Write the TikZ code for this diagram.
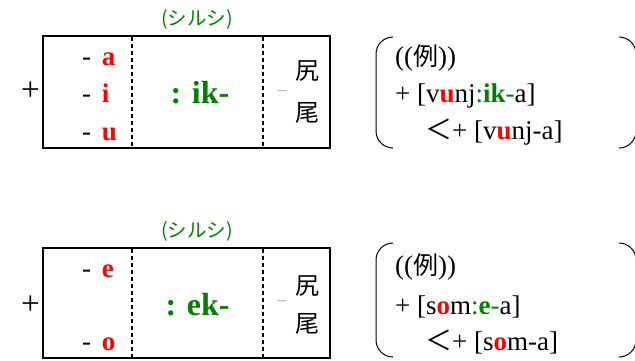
\documentclass[tikz,border=0pt]{standalone}
\usepackage{fontspec}
\setmainfont{Liberation Serif}
\newfontfamily\jp{Noto Sans CJK JP}
\newfontfamily\sansf{Liberation Sans}
\definecolor{myred}{RGB}{255,0,0}
\definecolor{mygreen}{RGB}{0,128,0}
\definecolor{mygray}{RGB}{185,185,185}
\begin{document}
\begin{tikzpicture}[x=1pt,y=-1pt,
  boxline/.style={line width=1.8pt},
  dashline/.style={line width=1.6pt,dash pattern=on 4pt off 3pt},
  brk/.style={line width=1pt},
  txt/.style={inner sep=0pt,font=\fontsize{27}{30}\selectfont},
  plus/.style={inner sep=0pt,font=\fontsize{33}{36}\selectfont},
  vow/.style={inner sep=0pt,anchor=base west,font=\fontsize{27}{30}\selectfont},
  marklabel/.style={inner sep=0pt,font=\jp\fontsize{19.5}{22}\selectfont,text=mygreen},
  kan/.style={inner sep=0pt,font=\jp\fontsize{24}{28}\selectfont},
  mid/.style={inner sep=0pt,anchor=base,text=mygreen,font=\bfseries\fontsize{32}{36}\selectfont},
  graydash/.style={inner sep=0pt,text=mygray,font=\sansf\fontsize{17}{20}\selectfont},
  ex/.style={txt,anchor=west}]
\useasboundingbox (0,0) rectangle (635,360);
% ---------- top ----------
\node[marklabel] (m1) at (197,19) {(シルシ)};
\draw[boxline] (43,36) rectangle (330,148);
\draw[dashline] (132,37) -- (132,148);
\draw[dashline] (263,37) -- (263,148);
\node[plus] (p1) at (30.5,91.5) {+};
\node[vow] (va) at (82,65) {-\hspace{0.4em}\textbf{\textcolor{myred}{a}}};
\node[vow] (vi) at (82,102) {-\hspace{0.4em}\textbf{\textcolor{myred}{i}}};
\node[vow] (vu) at (82,140) {-\hspace{0.4em}\textbf{\textcolor{myred}{u}}};
\node[mid] (ik) at (200,103) {: ik-};
\node[graydash] (g1) at (282,93) {–};
\node[kan] (s1) at (307.5,71) {尻};
\node[kan] (o1) at (307.5,112.5) {尾};
\draw[brk] (393,37) arc[start angle=270,end angle=180,radius=17] -- (376,131) arc[start angle=180,end angle=90,radius=17];
\draw[brk] (619,37) arc[start angle=270,end angle=360,radius=17] -- (636,131) arc[start angle=0,end angle=90,radius=17];
\node[ex] (e1) at (395,58) {(({\jp\fontsize{25}{30}\selectfont 例}))};
\node[ex] (e2) at (395,96) {+ [v\textbf{\textcolor{myred}{u}}nj\textcolor{mygreen}{:\textbf{ik}-}a]};
\node[ex] (e3) at (425,132) {{\jp ＜}+ [v\textbf{\textcolor{myred}{u}}nj-a]};
% ---------- bottom ----------
\node[marklabel] (m2) at (197,231) {(シルシ)};
\draw[boxline] (43,248) rectangle (330,358);
\draw[dashline] (132,249) -- (132,358);
\draw[dashline] (263,249) -- (263,358);
\node[plus] (p2) at (30.5,305) {+};
\node[vow] (ve) at (82,277) {-\hspace{0.4em}\textbf{\textcolor{myred}{e}}};
\node[vow] (vo) at (82,350) {-\hspace{0.4em}\textbf{\textcolor{myred}{o}}};
\node[mid] (ek) at (197.5,315) {: ek-};
\node[graydash] (g2) at (282,303) {–};
\node[kan] (s2) at (307.5,286) {尻};
\node[kan] (o2) at (307.5,324) {尾};
\draw[brk] (393,243) arc[start angle=270,end angle=180,radius=17] -- (376,340) arc[start angle=180,end angle=90,radius=17];
\draw[brk] (619,243) arc[start angle=270,end angle=360,radius=17] -- (636,340) arc[start angle=0,end angle=90,radius=17];
\node[ex] (e4) at (395,267) {(({\jp\fontsize{25}{30}\selectfont 例}))};
\node[ex] (e5) at (395,307) {+ [s\textbf{\textcolor{myred}{o}}m\textcolor{mygreen}{:\textbf{e}-}a]};
\node[ex] (e6) at (425,342) {{\jp ＜}+ [s\textbf{\textcolor{myred}{o}}m-a]};
\end{tikzpicture}
\end{document}
